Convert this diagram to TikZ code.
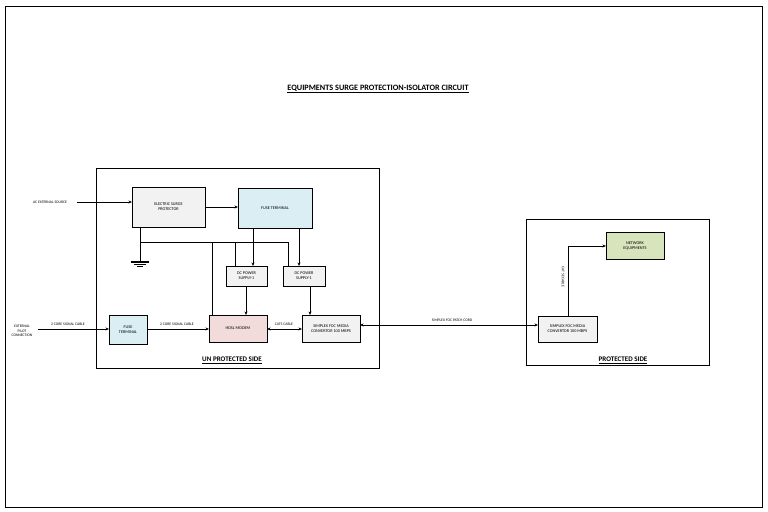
\documentclass[tikz,border=0pt]{standalone}
\usepackage{fontspec}
\setmainfont{Carlito}
\usetikzlibrary{arrows.meta}
\begin{document}
\begin{tikzpicture}[x=0.03cm,y=-0.03cm,
  blk/.style={draw,line width=0.6pt,align=center,inner sep=0pt,font=\fontsize{3.6}{4.2}\selectfont},
  lbl/.style={font=\fontsize{3.2}{3.8}\selectfont,align=center,inner sep=1pt},
  arr/.style={-{Stealth[length=3pt,width=2.5pt]},line width=0.6pt},
  ln/.style={line width=0.6pt},
  side/.style={font=\fontsize{6}{7}\selectfont\bfseries}]
\useasboundingbox (0,0) rectangle (768,512);
\draw[line width=0.5pt] (5,6) rectangle (762,507);
\node[font=\fontsize{7}{8}\selectfont\bfseries] (title) at (378,89) {\underline{EQUIPMENTS SURGE PROTECTION-ISOLATOR CIRCUIT}};
\draw[line width=0.6pt] (96,168) rectangle (379,368);
\draw[line width=0.6pt] (526,219) rectangle (709,365);
\node[side] (un) at (232,360) {\underline{UN PROTECTED SIDE}};
\node[side] (pr) at (623,360) {\underline{PROTECTED SIDE}};
% blocks
\node[blk,fill=black!5,minimum width=73\pgflinewidth] (esp) at (168.5,207) {};
\path (132,187) coordinate (esp1) (205,227) coordinate (esp2);
\draw[line width=0.6pt,fill=black!5] (esp1) rectangle (esp2);
\node[blk,draw=none] (espt) at (168.5,207) {ELECTRIC SURGE\\PROTECTOR};
\draw[line width=0.6pt,fill=cyan!10!blue!5!white,fill={rgb,255:red,218;green,238;blue,243}] (238,188) rectangle (312,228);
\node[blk,draw=none] (ftt) at (275,208) {FUSE TERMINAL};
\draw[line width=0.6pt,fill=black!5] (226,266) rectangle (267,286);
\node[blk,draw=none] (dc1) at (246.5,276) {DC POWER\\SUPPLY-1};
\draw[line width=0.6pt,fill=black!5] (283,266) rectangle (325,286);
\node[blk,draw=none] (dc2) at (304,276) {DC POWER\\SUPPLY-1};
\draw[line width=0.6pt,fill={rgb,255:red,218;green,238;blue,243}] (109,315) rectangle (147,344);
\node[blk,draw=none] (ftb) at (128,329.5) {FUSE\\TERMINAL};
\draw[line width=0.6pt,fill={rgb,255:red,242;green,220;blue,219}] (209,315) rectangle (267,342);
\node[blk,draw=none] (hdsl) at (238,328.5) {HDSL MODEM};
\draw[line width=0.6pt,fill=black!5] (302,315) rectangle (360,342);
\node[blk,draw=none] (smL) at (331,328.5) {SIMPLEX FOC MEDIA\\CONVERTOR 100 MBPS};
\draw[line width=0.6pt,fill=black!5] (538,316) rectangle (597,342);
\node[blk,draw=none] (smR) at (567.5,329) {SIMPLEX FOC MEDIA\\CONVERTOR 100 MBPS};
\draw[line width=0.6pt,fill={rgb,255:red,216;green,228;blue,188}] (606,232) rectangle (664,259);
\node[blk,draw=none] (net) at (635,245.5) {NETWORK\\EQUIPMENTS};
% texts
\node[lbl] (ac) at (50,202) {AC EXTERNAL SOURCE};
\node[lbl] (ext) at (22,331) {EXTERNAL\\PILOT\\CONNECTION};
% connectors
\draw[arr] (77,202) -- (132,202);
\draw[arr] (205,207) -- (238,207);
\draw[ln] (140,227) -- (140,262);
\draw[line width=1pt] (131,262) -- (149,262);
\draw[line width=0.8pt] (134,264) -- (146,264);
\draw[line width=0.6pt] (137,266) -- (143,266);
\draw[ln] (140,242) -- (288,242) -- (288,266);
\draw[ln] (212,242) -- (212,315);
\draw[ln] (235,242) -- (235,266);
\draw[arr] (253,228) -- (253,266);
\draw[arr] (299,228) -- (299,266);
\draw[arr] (246,286) -- (246,315);
\draw[arr] (310,286) -- (310,315);
\draw[arr] (38,329) -- (109,329);
\node[lbl] at (68,324) {2 CORE SIGNAL CABLE};
\draw[arr] (147,329) -- (209,329);
\node[lbl] at (177,324) {2 CORE SIGNAL CABLE};
\draw[{Stealth[length=3pt,width=2.5pt]}-{Stealth[length=3pt,width=2.5pt]},line width=0.6pt] (267,329) -- (302,329);
\node[lbl] at (284,324) {CAT5 CABLE};
\draw[{Stealth[length=3pt,width=2.5pt]}-{Stealth[length=3pt,width=2.5pt]},line width=0.6pt] (360,325) -- (538,325);
\node[lbl] at (452,320) {SIMPLEX FOC PATCH CORD};
\draw[arr] (568,316) -- (568,246) -- (606,246);
\node[lbl,rotate=-90] at (563,277) {CAT 5E CABLE};
\end{tikzpicture}
\end{document}
